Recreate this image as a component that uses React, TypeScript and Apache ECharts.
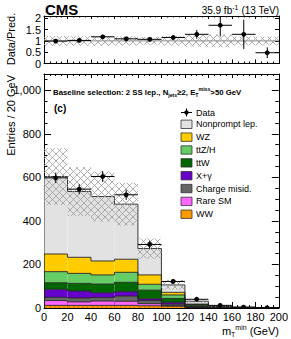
import React, { useEffect, useRef } from "react";
import * as echarts from "echarts";

// ---- data ----
const binLow = [0, 20, 40, 60, 80, 100, 120, 140, 160, 180];
const BIN_WIDTH = 20;

const wwVals = [12, 12, 12, 12, 10, 8, 2, 0.5, 0.3, 0.2];
const rareVals = [22, 16, 20, 19, 10, 4, 1, 0.3, 0.2, 0.2];
const chargeVals = [15, 18, 16, 24, 14, 6, 2, 0.5, 0.2, 0.2];
const xgammaVals = [37, 32, 22, 20, 8, 8, 2, 0.5, 0.3, 0.2];
const ttwVals = [30, 35, 40, 43, 40, 18, 6, 2, 0.8, 0.6];
const ttzhVals = [51, 46, 42, 46, 27, 16, 3, 1, 0.5, 0.4];
const wzVals = [81, 74, 64, 60, 43, 12, 2, 0.7, 0.3, 0.2];
const nonpromptVals = [356, 302, 296, 253, 121, 34, 13, 1.6, 0.5, 0.1];

const dataVals = [598, 546, 604, 520, 292, 122, 40, 12, 4, 1];
const dataErr = [24, 23, 25, 23, 17, 11, 6, 3.5, 2, 0.5];
const predUnc = [130, 112, 115, 98, 46, 22, 8, 2, 0.6, 0.4];

const processNames = ["WW", "Rare SM", "Charge misid.", "X+\u03b3", "ttW", "ttZ/H", "WZ", "Nonprompt lep."];
const processVals = [wwVals, rareVals, chargeVals, xgammaVals, ttwVals, ttzhVals, wzVals, nonpromptVals];

// ---- styles ----
const processColors = ["#ff9900", "#ff66ff", "#666666", "#6600cc", "#006600", "#66cc66", "#ffcc00", "#e2e2e2"];
const FONT = "'Liberation Sans', Arial, sans-serif";

function buildStacks() {
  const bottoms = binLow.map(() => 0);
  return processVals.map((vals) => {
    const items = vals.map((v, i) => {
      const b = bottoms[i];
      bottoms[i] = b + v;
      return [binLow[i], binLow[i] + BIN_WIDTH, b, b + v, 0];
    });
    items.forEach((it, i) => {
      it[4] = i > 0 ? items[i - 1][3] : 0;
    });
    return items;
  });
}

const totals = binLow.map((_, i) => processVals.reduce((s, arr) => s + arr[i], 0));

function fillRender(color: string, striped: boolean) {
  return (params: any, api: any) => {
    const p0 = api.coord([api.value(0), api.value(2)]);
    const p1 = api.coord([api.value(1), api.value(3)]);
    const children: any[] = [
      { type: "rect", shape: { x: p0[0], y: p1[1], width: p1[0] - p0[0], height: p0[1] - p1[1] }, style: { fill: color } },
    ];
    if (striped && p0[1] - p1[1] > 1) {
      for (let x = p0[0] + 2; x < p1[0]; x += 4.5) {
        children.push({ type: "line", shape: { x1: x, y1: p1[1] + 1, x2: x, y2: p0[1] }, style: { stroke: "#b05a00", lineWidth: 0.7 } });
      }
    }
    return { type: "group", children };
  };
}

function outlineRender(params: any, api: any) {
  const top0 = api.coord([api.value(0), api.value(3)]);
  const top1 = api.coord([api.value(1), api.value(3)]);
  const prev = api.coord([api.value(0), api.value(4)]);
  const st = { stroke: "#222", lineWidth: 0.9 };
  return {
    type: "group",
    children: [
      { type: "line", shape: { x1: top0[0], y1: top0[1], x2: top1[0], y2: top1[1] }, style: st },
      { type: "line", shape: { x1: top0[0], y1: prev[1], x2: top0[0], y2: top0[1] }, style: st },
    ],
  };
}

function hatchRender(params: any, api: any) {
  const p0 = api.coord([api.value(0), api.value(2)]);
  const p1 = api.coord([api.value(1), api.value(3)]);
  const cs = params.coordSys;
  const x0 = Math.min(p0[0], p1[0]);
  const x1 = Math.max(p0[0], p1[0]);
  let yTop = Math.min(p0[1], p1[1]);
  let yBot = Math.max(p0[1], p1[1]);
  yTop = Math.max(yTop, cs.y);
  yBot = Math.min(yBot, cs.y + cs.height);
  const children: any[] = [];
  const d = 7;
  const st = { stroke: "#9a9a9a", lineWidth: 0.8 };
  if (yBot - yTop > 0.2) {
    for (let k = Math.ceil((x0 + yTop) / d) * d; k <= x1 + yBot; k += d) {
      const lo = Math.max(x0, k - yBot);
      const hi = Math.min(x1, k - yTop);
      if (hi > lo) children.push({ type: "line", shape: { x1: lo, y1: k - lo, x2: hi, y2: k - hi }, style: st });
    }
    for (let k = Math.ceil((x0 - yBot) / d) * d; k <= x1 - yTop; k += d) {
      const lo = Math.max(x0, yTop + k);
      const hi = Math.min(x1, yBot + k);
      if (hi > lo) children.push({ type: "line", shape: { x1: lo, y1: lo - k, x2: hi, y2: hi - k }, style: st });
    }
  }
  return { type: "group", children };
}

function pointRender(params: any, api: any) {
  const x = api.value(0), y = api.value(1), e = api.value(2), hw = api.value(3);
  const c = api.coord([x, y]);
  const l = api.coord([x - hw, y]);
  const r = api.coord([x + hw, y]);
  const t = api.coord([x, y + e]);
  const b = api.coord([x, y - e]);
  const st = { stroke: "#000", lineWidth: 1 };
  return {
    type: "group",
    children: [
      { type: "line", shape: { x1: l[0], y1: c[1], x2: r[0], y2: c[1] }, style: st },
      { type: "line", shape: { x1: c[0], y1: t[1], x2: c[0], y2: b[1] }, style: st },
      { type: "circle", shape: { cx: c[0], cy: c[1], r: 2.4 }, style: { fill: "#000" } },
    ],
  };
}

function xAxisDef(grid: number, position: string, showLabel: boolean, tickLen: number) {
  return {
    type: "value",
    gridIndex: grid,
    position,
    min: 0,
    max: 200,
    interval: 20,
    splitLine: { show: false },
    axisLine: { show: true, onZero: false, lineStyle: { color: "#000", width: 1 } },
    axisTick: { show: true, inside: true, length: tickLen, lineStyle: { color: "#000", width: 1 } },
    minorTick: { show: true, splitNumber: 4, length: tickLen / 2, lineStyle: { color: "#000", width: 1 } },
    axisLabel: { show: showLabel, fontSize: 11, color: "#000", fontFamily: FONT, margin: 3 },
  };
}

function yAxisDef(grid: number, position: string, showLabel: boolean, max: number, interval: number, tickLen: number, minorSplit: number) {
  return {
    type: "value",
    gridIndex: grid,
    position,
    min: 0,
    max,
    interval,
    splitLine: { show: false },
    axisLine: { show: true, onZero: false, lineStyle: { color: "#000", width: 1 } },
    axisTick: { show: true, inside: true, length: tickLen, lineStyle: { color: "#000", width: 1 } },
    minorTick: { show: minorSplit > 0, splitNumber: minorSplit || 5, length: tickLen / 2, lineStyle: { color: "#000", width: 1 } },
    axisLabel: { show: showLabel, fontSize: 11, color: "#000", fontFamily: FONT, margin: 3, showMaxLabel: false },
  };
}

export default function App() {
  const ref = useRef<HTMLDivElement>(null);

  useEffect(() => {
    if (!ref.current) return;
    const chart = echarts.init(ref.current, undefined, { renderer: "svg" });
    const stacks = buildStacks();

    const fillSeries = stacks.map((items, si) => ({
      type: "custom",
      name: processNames[si],
      xAxisIndex: 2,
      yAxisIndex: 2,
      clip: true,
      renderItem: fillRender(processColors[si], si === 0),
      data: items,
      z: 2,
    }));
    const outlineSeries = stacks.map((items, si) => ({
      type: "custom",
      name: processNames[si] + " outline",
      xAxisIndex: 2,
      yAxisIndex: 2,
      clip: true,
      renderItem: outlineRender,
      data: items,
      z: 3,
    }));

    const mainHatch = binLow.map((lo, i) => [lo, lo + BIN_WIDTH, Math.max(0, totals[i] - predUnc[i]), totals[i] + predUnc[i]]);
    const ratioHatch = binLow.map((lo, i) => [lo, lo + BIN_WIDTH, 1 - predUnc[i] / totals[i], 1 + predUnc[i] / totals[i]]);
    const mainPoints = binLow.map((lo, i) => [lo + BIN_WIDTH / 2, dataVals[i], dataErr[i], BIN_WIDTH / 2]);
    const ratioPoints = binLow.map((lo, i) => [lo + BIN_WIDTH / 2, dataVals[i] / totals[i], dataErr[i] / totals[i], BIN_WIDTH / 2]);

    const legendX = 181;
    const legendRows = [
      { name: "Nonprompt lep.", color: processColors[7] },
      { name: "WZ", color: processColors[6] },
      { name: "ttZ/H", color: processColors[5] },
      { name: "ttW", color: processColors[4] },
      { name: "X+\u03b3", color: processColors[3] },
      { name: "Charge misid.", color: processColors[2] },
      { name: "Rare SM", color: processColors[1] },
      { name: "WW", color: processColors[0] },
    ];
    const legendEls: any[] = [];
    const dataY = 112.5;
    legendEls.push({ type: "line", shape: { x1: legendX, y1: dataY, x2: legendX + 11, y2: dataY }, style: { stroke: "#000", lineWidth: 1 } });
    legendEls.push({ type: "line", shape: { x1: legendX + 5.5, y1: dataY - 4, x2: legendX + 5.5, y2: dataY + 4 }, style: { stroke: "#000", lineWidth: 1 } });
    legendEls.push({ type: "circle", shape: { cx: legendX + 5.5, cy: dataY, r: 2.2 }, style: { fill: "#000" } });
    legendEls.push({ type: "text", x: 196, y: dataY, style: { text: "Data", fontSize: 9, fontFamily: FONT, fill: "#000", align: "left", verticalAlign: "middle" } });
    legendRows.forEach((row, i) => {
      const cy = 124.3 + i * 12.85;
      legendEls.push({ type: "rect", shape: { x: legendX, y: cy - 4.2, width: 11, height: 8.4 }, style: { fill: row.color, stroke: "#333", lineWidth: 0.8 } });
      legendEls.push({ type: "text", x: 196, y: cy, style: { text: row.name, fontSize: 9, fontFamily: FONT, fill: "#000", align: "left", verticalAlign: "middle" } });
    });

    const option: any = {
      animation: false,
      textStyle: { fontFamily: FONT },
      grid: [
        { left: 44, top: 16, width: 235, height: 47.5 },
        { left: 44, top: 74, width: 235, height: 234 },
      ],
      xAxis: [
        xAxisDef(0, "bottom", false, 4),
        xAxisDef(0, "top", false, 3),
        xAxisDef(1, "bottom", true, 6),
        xAxisDef(1, "top", false, 4),
      ],
      yAxis: [
        yAxisDef(0, "left", true, 2.1, 0.5, 4, 0),
        yAxisDef(0, "right", false, 2.1, 0.5, 4, 0),
        yAxisDef(1, "left", true, 1075, 200, 7, 4),
        yAxisDef(1, "right", false, 1075, 200, 7, 4),
      ],
      series: [
        ...fillSeries,
        ...outlineSeries,
        { type: "custom", name: "unc", xAxisIndex: 2, yAxisIndex: 2, clip: true, renderItem: hatchRender, data: mainHatch, z: 4 },
        { type: "custom", name: "Data", xAxisIndex: 2, yAxisIndex: 2, clip: true, renderItem: pointRender, data: mainPoints, z: 5 },
        { type: "line", name: "unity", xAxisIndex: 0, yAxisIndex: 0, data: [[0, 1], [200, 1]], symbol: "none", lineStyle: { color: "#888", width: 1 }, z: 2 },
        { type: "custom", name: "ratio unc", xAxisIndex: 0, yAxisIndex: 0, clip: true, renderItem: hatchRender, data: ratioHatch, z: 3 },
        { type: "custom", name: "ratio", xAxisIndex: 0, yAxisIndex: 0, clip: true, renderItem: pointRender, data: ratioPoints, z: 5 },
      ],
      graphic: [
        { type: "text", x: 45, y: 9, style: { text: "CMS", fontSize: 15, fontWeight: "bold", fontFamily: FONT, fill: "#000", align: "left", verticalAlign: "middle" } },
        {
          type: "text", x: 279, y: 10,
          style: {
            text: "{a|35.9 fb}{s|-1}{a| (13 TeV)}", align: "right", verticalAlign: "middle",
            rich: {
              a: { fontSize: 10, fontFamily: FONT, fill: "#000", lineHeight: 12 },
              s: { fontSize: 7, fontFamily: FONT, fill: "#000", lineHeight: 8, verticalAlign: "top" },
            },
          },
        },
        { type: "text", x: 11, y: 39, rotation: Math.PI / 2, style: { text: "Data/Pred.", fontSize: 11, fontFamily: FONT, fill: "#000", align: "center", verticalAlign: "middle" } },
        { type: "text", x: 11, y: 75, rotation: Math.PI / 2, style: { text: "Entries / 20 GeV", fontSize: 11, fontFamily: FONT, fill: "#000", align: "right", verticalAlign: "middle" } },
        {
          type: "text", x: 279, y: 331,
          style: {
            text: "{a|m}{b|T}{c|min}{a| (GeV)}", align: "right", verticalAlign: "middle",
            rich: {
              a: { fontSize: 11, fontFamily: FONT, fill: "#000", lineHeight: 14 },
              b: { fontSize: 7, fontFamily: FONT, fill: "#000", lineHeight: 8, verticalAlign: "bottom" },
              c: { fontSize: 7, fontFamily: FONT, fill: "#000", lineHeight: 8, verticalAlign: "top" },
            },
          },
        },
        {
          type: "text", x: 53, y: 92,
          style: {
            text: "{a|Baseline selection: 2 SS lep., N}{b|jets}{a|\u22652, E}{b|T}{c|miss}{a|>50 GeV}", align: "left", verticalAlign: "middle",
            rich: {
              a: { fontSize: 7.8, fontWeight: "bold", fontFamily: FONT, fill: "#000", lineHeight: 11 },
              b: { fontSize: 5.2, fontWeight: "bold", fontFamily: FONT, fill: "#000", lineHeight: 6, verticalAlign: "bottom" },
              c: { fontSize: 5.2, fontWeight: "bold", fontFamily: FONT, fill: "#000", lineHeight: 6, verticalAlign: "top" },
            },
          },
        },
        { type: "text", x: 54, y: 108, style: { text: "(c)", fontSize: 10, fontWeight: "bold", fontFamily: FONT, fill: "#000", align: "left", verticalAlign: "middle" } },
        ...legendEls,
      ],
    };
    chart.setOption(option);
    return () => chart.dispose();
  }, []);

  return <div ref={ref} style={{ position: "absolute", left: 0, top: 0, width: 291, height: 339 }} />;
}
